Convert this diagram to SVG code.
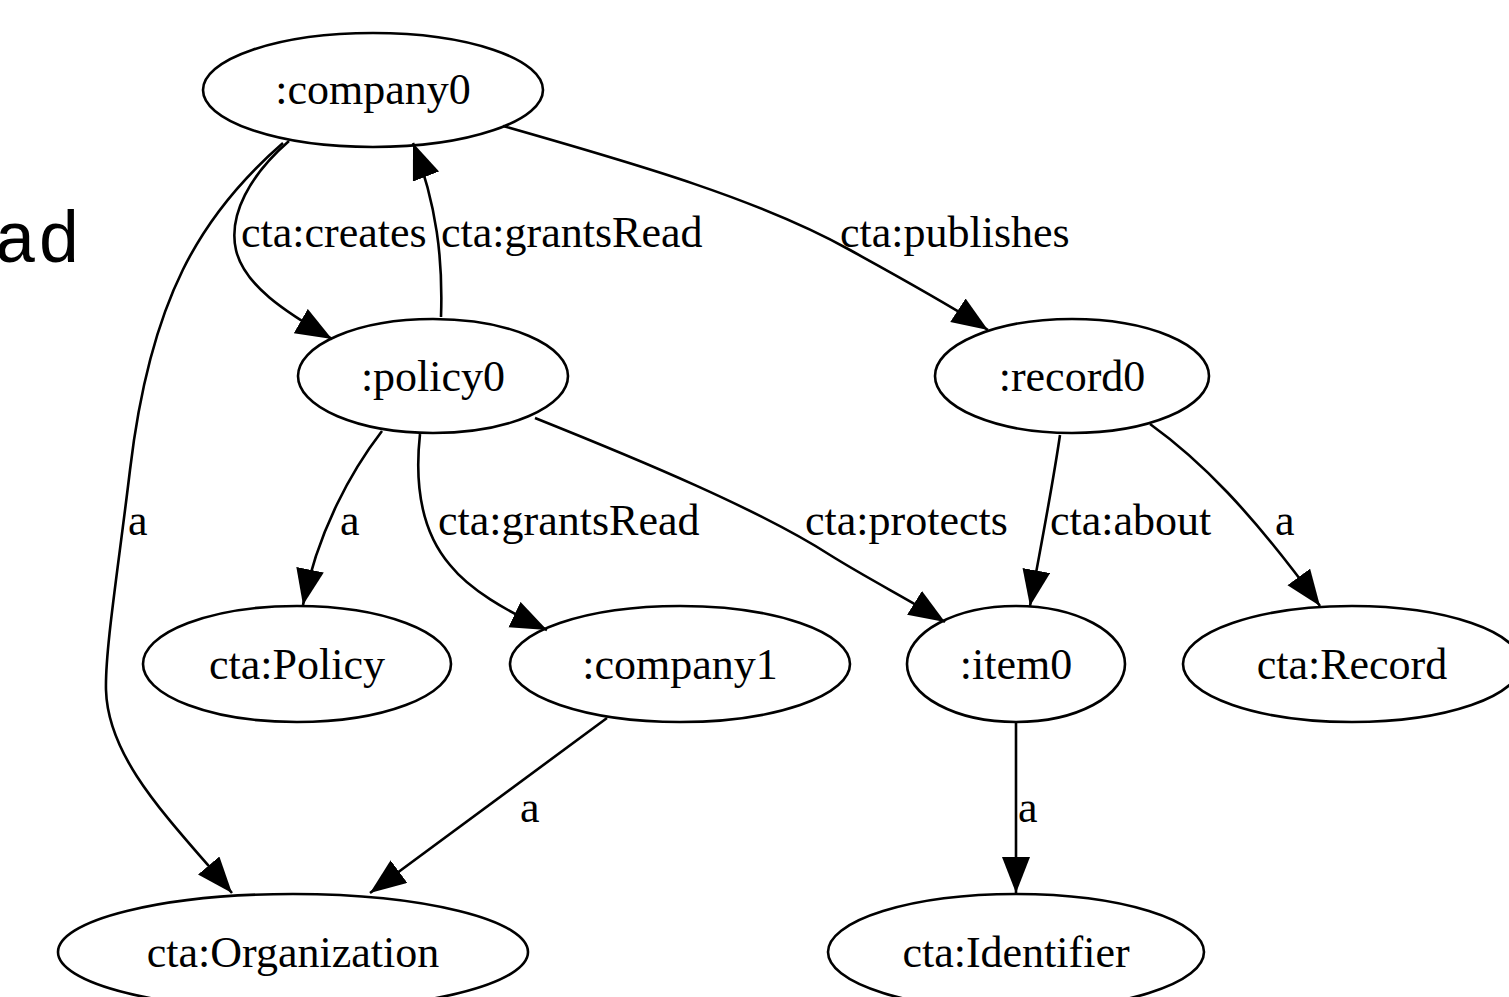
<svg xmlns="http://www.w3.org/2000/svg" width="1509" height="997" viewBox="0 0 1509 997">
  <style>
    .node ellipse { fill: none; stroke: #000; stroke-width: 2.6; }
    .node text, .lbl { font-family: "Liberation Serif", "Times New Roman", serif; font-size: 44px; fill: #000; }
    .node text { text-anchor: middle; }
    .edge { fill: none; stroke: #000; stroke-width: 2.6; marker-end: url(#arrow); }
    .mono { font-family: "Liberation Mono", "Courier New", monospace; font-size: 72px; fill: #000; }
  </style>
  <defs>
    <marker id="arrow" markerUnits="userSpaceOnUse" markerWidth="40" markerHeight="30" refX="36" refY="14" orient="auto">
      <path d="M0,0 L36,14 L0,28 z" fill="#000"/>
    </marker>
  </defs>
  <rect width="1509" height="997" fill="#fff"/>

  <text class="mono" x="-6" y="262">ad</text>

  <g id="connectors">
    <path class="edge" d="M289,141 C250,175 228,215 236,250 C244,285 285,312 332,339"/>
    <path class="edge" d="M441,317 C443,260 437,205 413,143"/>
    <path class="edge" d="M503,126 C640,165 760,200 850,250 C900,278 950,305 988,330"/>
    <path class="edge" d="M283,143 C200,215 150,300 130,470 C118,570 105,650 106,690 C108,760 170,820 232,893"/>
    <path class="edge" d="M382,431 C352,470 318,530 303,605"/>
    <path class="edge" d="M420,434 C415,480 420,530 450,565 C470,590 505,610 547,630"/>
    <path class="edge" d="M535,418 C640,460 760,510 830,555 C870,580 910,600 945,622"/>
    <path class="edge" d="M1060,435 C1052,490 1040,550 1030,606"/>
    <path class="edge" d="M1150,424 C1200,460 1250,510 1320,606"/>
    <path class="edge" d="M607,718 L370,893"/>
    <path class="edge" d="M1016,722 L1016,893"/>

    <text class="lbl" x="241" y="247">cta:creates</text>
    <text class="lbl" x="441" y="247">cta:grantsRead</text>
    <text class="lbl" x="840" y="247">cta:publishes</text>
    <text class="lbl" x="128" y="535">a</text>
    <text class="lbl" x="340" y="535">a</text>
    <text class="lbl" x="438" y="535">cta:grantsRead</text>
    <text class="lbl" x="805" y="535">cta:protects</text>
    <text class="lbl" x="1050" y="535">cta:about</text>
    <text class="lbl" x="1275" y="535">a</text>
    <text class="lbl" x="520" y="822">a</text>
    <text class="lbl" x="1018" y="822">a</text>
  </g>

  <g id="company0" class="node">
    <ellipse cx="373" cy="90" rx="170" ry="57"/>
    <text x="373" y="104">:company0</text>
  </g>
  <g id="policy0" class="node">
    <ellipse cx="433" cy="376" rx="135" ry="57"/>
    <text x="433" y="391">:policy0</text>
  </g>
  <g id="record0" class="node">
    <ellipse cx="1072" cy="376" rx="137" ry="57"/>
    <text x="1072" y="391">:record0</text>
  </g>
  <g id="ctaPolicy" class="node">
    <ellipse cx="297" cy="664" rx="154" ry="58"/>
    <text x="297" y="679">cta:Policy</text>
  </g>
  <g id="company1" class="node">
    <ellipse cx="680" cy="664" rx="170" ry="58"/>
    <text x="680" y="679">:company1</text>
  </g>
  <g id="item0" class="node">
    <ellipse cx="1016" cy="664" rx="109" ry="58"/>
    <text x="1016" y="679">:item0</text>
  </g>
  <g id="ctaRecord" class="node">
    <ellipse cx="1352" cy="664" rx="169" ry="58"/>
    <text x="1352" y="679">cta:Record</text>
  </g>
  <g id="ctaOrganization" class="node">
    <ellipse cx="293" cy="952" rx="235" ry="58"/>
    <text x="293" y="967">cta:Organization</text>
  </g>
  <g id="ctaIdentifier" class="node">
    <ellipse cx="1016" cy="952" rx="188" ry="58"/>
    <text x="1016" y="967">cta:Identifier</text>
  </g>
</svg>
